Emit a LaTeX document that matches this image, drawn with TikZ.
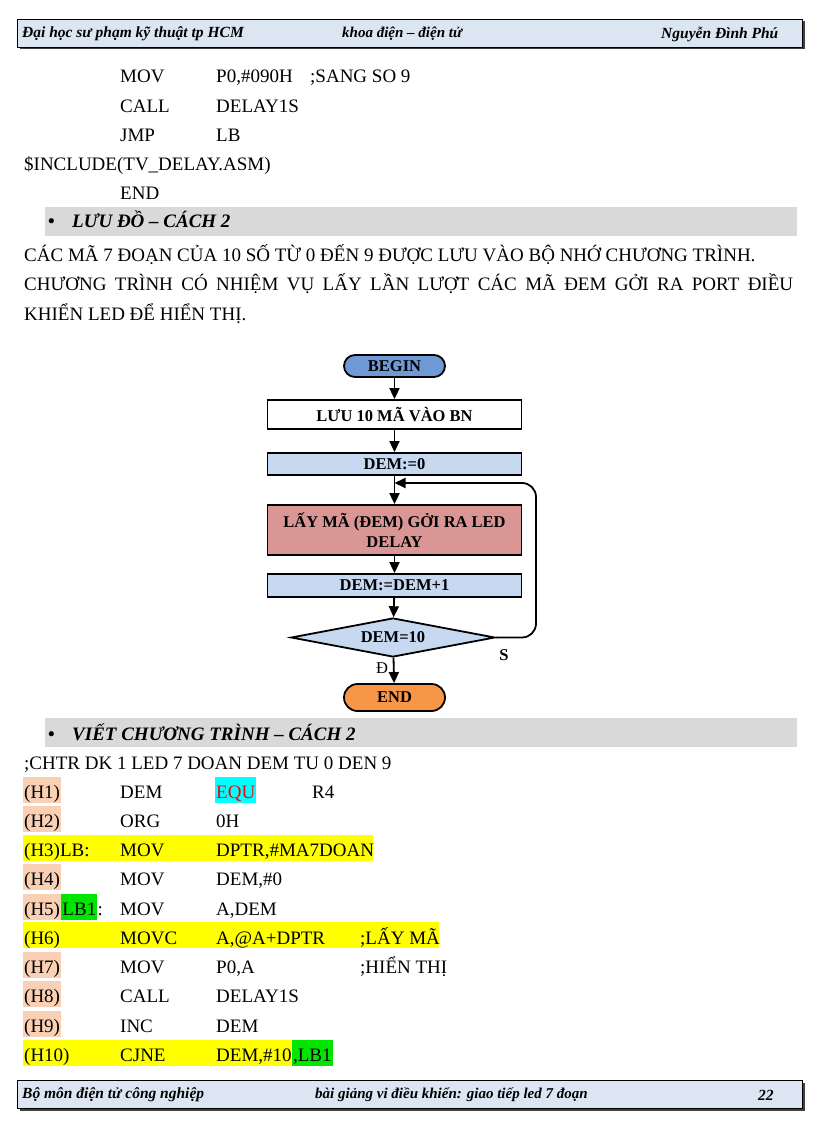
\documentclass[tikz,border=0pt]{standalone}
\usepackage{fontspec}
\setmainfont{Liberation Serif}
\usetikzlibrary{arrows.meta,positioning,shapes.geometric}

\definecolor{hdrblue}{HTML}{DCE6F2}
\definecolor{bargray}{HTML}{D9D9D9}
\definecolor{beginblue}{HTML}{6F9AD6}
\definecolor{boxblue}{HTML}{C6D9F1}
\definecolor{boxred}{HTML}{D99694}
\definecolor{endorange}{HTML}{F79646}
\definecolor{hlpeach}{HTML}{FAD0B4}
\definecolor{hlyellow}{HTML}{FFFF00}
\definecolor{hlgreen}{HTML}{00E600}
\definecolor{hlcyan}{HTML}{00FFFF}

\begin{document}
\begin{tikzpicture}[x=1pt,y=-1pt,
            every node/.style={inner sep=0pt},
            txt/.style={anchor=base west, font=\fontsize{19}{22}\selectfont},
            head/.style={anchor=base west, font=\fontsize{19}{22}\selectfont\bfseries\itshape},
            hdr/.style={anchor=west, font=\fontsize{15.5}{17}\selectfont\bfseries\itshape},
            hl/.style={inner xsep=1pt, text height=21.5pt, text depth=4.5pt},
            term/.style={draw, line width=1.8pt, rounded corners=11pt, minimum width=101pt,
                         minimum height=22pt, font=\fontsize{16.5}{18}\selectfont\bfseries},
            proc/.style={draw, line width=1.8pt, minimum width=254pt,
                         font=\fontsize{16.5}{19.5}\selectfont\bfseries},
            decide/.style={diamond, draw, line width=1.8pt, fill=boxblue, aspect=5,
                           minimum width=204pt, minimum height=39pt,
                           font=\fontsize{16.5}{18}\selectfont\bfseries},
            flow/.style={line width=1.8pt, -{Triangle[length=11pt,width=10pt]}}]
            \fill[white] (0,0) rectangle (816,1123);
            \useasboundingbox (0,0) rectangle (816,1123);
            % page header
            \fill[black!75] (19.5,21.5) rectangle (804.5,49.5);
            \draw[fill=hdrblue] (17,19) rectangle (802,47);
            \node[hdr] (school) at (22,34) {Đại học sư phạm kỹ thuật tp HCM};
            \node[hdr, font=\fontsize{15}{17}\selectfont\bfseries\itshape] (dept) at (342,34) {khoa điện – điện tử};
            \node[hdr] (author) at (661,34) {Nguyễn Đình Phú};
            % end of previous program
            \node[txt] (c1a) at (120,83) {MOV};
            \node[txt] (c1b) at (216,83) {P0,\#090H};
            \node[txt] (c1c) at (310,83) {;SANG SO 9};
            \node[txt] (c2a) at (120,112.25) {CALL};
            \node[txt] (c2b) at (216,112.25) {DELAY1S};
            \node[txt] (c3a) at (120,141.5) {JMP};
            \node[txt] (c3b) at (216,141.5) {LB};
            \node[txt] (c4a) at (24,170.75) {\$INCLUDE(TV\_DELAY.ASM)};
            \node[txt] (c5a) at (120,200) {END};
            % flowchart heading and text
            \fill[bargray] (45,207) rectangle (797,236);
            \node[txt] (dot1) at (48,228) {\bfseries •};
            \node[head] (sec1) at (72,228) {LƯU ĐỒ – CÁCH 2};
            \node[txt] (p1) at (24,261.4) {CÁC MÃ 7 ĐOẠN CỦA 10 SỐ TỪ 0 ĐẾN 9 ĐƯỢC LƯU VÀO BỘ NHỚ CHƯƠNG TRÌNH.};
            \node[txt] (p2) at (24,290.5) {\makebox[769pt][s]{CHƯƠNG TRÌNH CÓ NHIỆM VỤ LẤY LẦN LƯỢT CÁC MÃ ĐEM GỞI RA PORT ĐIỀU}};
            \node[txt] (p3) at (24,320) {KHIỂN LED ĐỂ HIỂN THỊ.};
            % flowchart
            \node[term, fill=beginblue] (begin) at (394.5,366) {BEGIN};
            \node[proc, fill=white, minimum height=29pt] (store) at (394.5,414.5) {LƯU 10 MÃ VÀO BN};
            \node[proc, fill=boxblue, minimum height=22pt] (zero) at (394.5,464) {DEM:=0};
            \node[proc, fill=boxred, minimum height=50pt, align=center] (fetch) at (394.5,530)
                {LẤY MÃ (ĐEM) GỞI RA LED\\DELAY};
            \node[proc, fill=boxblue, minimum height=23pt] (inc) at (394.5,585.5) {DEM:=DEM+1};
            \node[decide] (test) at (393,637.5) {DEM=10};
            \node[term, fill=endorange, minimum height=27pt, rounded corners=13.5pt] (finish) at (394.5,697.5) {END};
            \coordinate (loopin) at (394.5,483);
            \coordinate (looptop) at (536,483);
            \node[font=\fontsize{16.5}{18}\selectfont] (yes) at (382,668) {Đ};
            \node[font=\fontsize{16.5}{18}\selectfont\bfseries] (no) at (504,655) {S};
            \draw[flow] (begin) -- (store);
            \draw[flow] (store) -- (zero);
            \draw[flow] (zero) -- (fetch);
            \draw[flow] (fetch) -- (inc);
            \draw[flow] (inc) -- (test);
            \draw[flow] (test) -- (finish);
            \draw[flow, rounded corners=14pt] (test.east) -| (looptop) -- (loopin);
            % program heading
            \fill[bargray] (45,718) rectangle (797,747);
            \node[txt] (dot2) at (48,740) {\bfseries •};
            \node[head] (sec2) at (72,740) {VIẾT CHƯƠNG TRÌNH – CÁCH 2};
            \node[txt] (cmt) at (24,769) {;CHTR DK 1 LED 7 DOAN DEM TU 0 DEN 9};
            % highlighted rows
            \fill[hlyellow] (23,835) rectangle (373,861);
            \fill[hlyellow] (23,922.25) rectangle (439,948.25);
            \fill[hlyellow] (23,1039.75) rectangle (291,1065.75);
            % program listing
            \node[txt, hl, fill=hlpeach] (h1) at (23,798) {(H1)};
            \node[txt] (h1a) at (120,798) {DEM};
            \node[txt, hl, fill=hlcyan, text=red] (h1b) at (215,798) {EQU};
            \node[txt] (h1c) at (312,798) {R4};
            \node[txt, hl, fill=hlpeach] (h2) at (23,827.25) {(H2)};
            \node[txt] (h2a) at (120,827.25) {ORG};
            \node[txt] (h2b) at (216,827.25) {0H};
            \node[txt] (h3) at (24,856.5) {(H3)LB:};
            \node[txt] (h3a) at (120,856.5) {MOV};
            \node[txt] (h3b) at (216,856.5) {DPTR,\#MA7DOAN};
            \node[txt, hl, fill=hlpeach] (h4) at (23,885.75) {(H4)};
            \node[txt] (h4a) at (120,885.75) {MOV};
            \node[txt] (h4b) at (216,885.75) {DEM,\#0};
            \node[txt, hl, fill=hlpeach] (h5) at (23,915) {(H5)};
            \node[txt, hl, fill=hlgreen] (lb1) at (h5.base east) {LB1};
            \node[txt] (h5c) at (lb1.base east) {:};
            \node[txt] (h5a) at (120,915) {MOV};
            \node[txt] (h5b) at (216,915) {A,DEM};
            \node[txt] (h6) at (24,944.25) {(H6)};
            \node[txt] (h6a) at (120,944.25) {MOVC};
            \node[txt] (h6b) at (216,944.25) {A,@A+DPTR};
            \node[txt] (h6c) at (360,944.25) {;LẤY MÃ};
            \node[txt, hl, fill=hlpeach] (h7) at (23,973.5) {(H7)};
            \node[txt] (h7a) at (120,973.5) {MOV};
            \node[txt] (h7b) at (216,973.5) {P0,A};
            \node[txt] (h7c) at (360,973.5) {;HIỂN THỊ};
            \node[txt, hl, fill=hlpeach] (h8) at (23,1002.75) {(H8)};
            \node[txt] (h8a) at (120,1002.75) {CALL};
            \node[txt] (h8b) at (216,1002.75) {DELAY1S};
            \node[txt, hl, fill=hlpeach] (h9) at (23,1032) {(H9)};
            \node[txt] (h9a) at (120,1032) {INC};
            \node[txt] (h9b) at (216,1032) {DEM};
            \node[txt] (h10) at (24,1061.25) {(H10)};
            \node[txt] (h10a) at (120,1061.25) {CJNE};
            \node[txt] (h10b) at (216,1061.25) {DEM,\#10};
            \node[txt, hl, fill=hlgreen] (lb1b) at (h10b.base east) {,LB1};
            % page footer
            \fill[black!75] (19.5,1082.5) rectangle (804.5,1110.5);
            \draw[fill=hdrblue] (17,1080) rectangle (802,1108);
            \node[hdr] (unit) at (22,1095) {Bộ môn điện tử công nghiệp};
            \node[hdr, font=\fontsize{15}{17}\selectfont\bfseries\itshape] (course) at (315,1095) {bài giảng vi điều khiển: giao tiếp led 7 đoạn};
            \node[hdr] (page) at (758,1095) {22};
        \end{tikzpicture}
\end{document}
